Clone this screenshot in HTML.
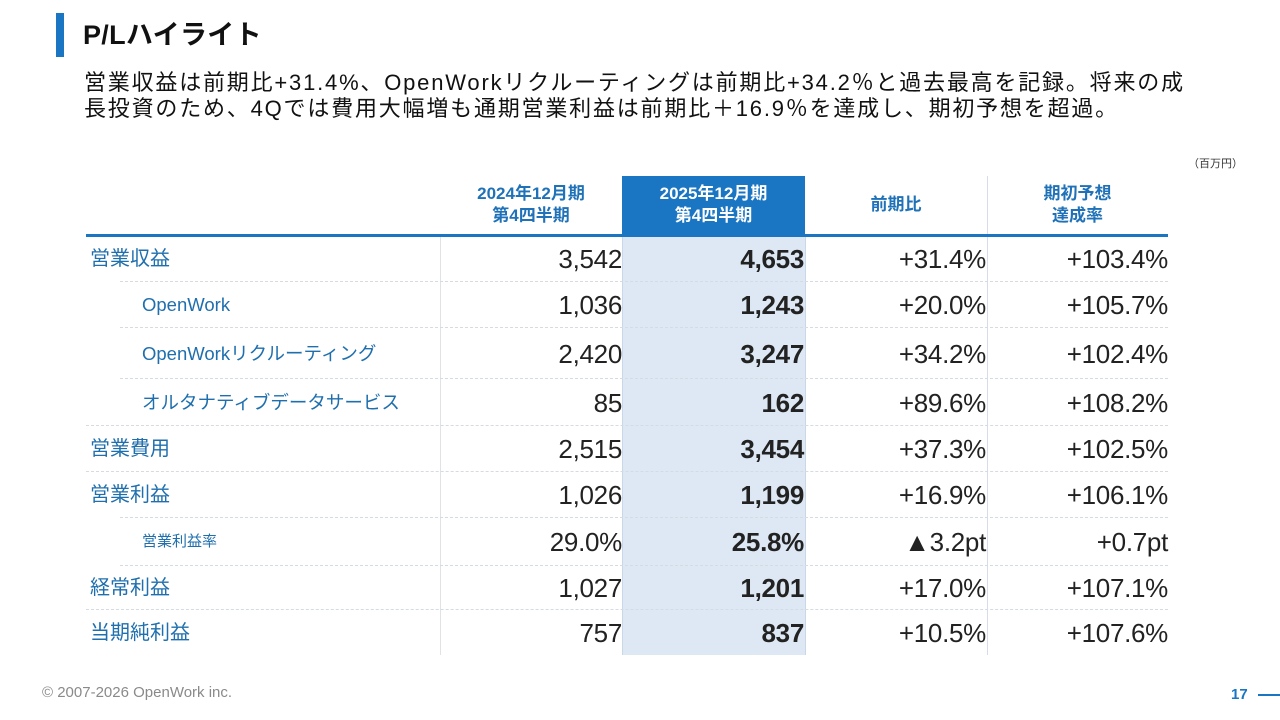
<!DOCTYPE html>
<html><head><meta charset="utf-8">
<style>
*{margin:0;padding:0;box-sizing:border-box}
body{width:1280px;height:720px;background:#fff;position:relative;overflow:hidden;font-family:"Liberation Sans","Noto Sans CJK JP",sans-serif;color:#222}
.abs{position:absolute}
.lbl{position:absolute;color:#1f6fae;font-size:19px;line-height:24px;white-space:nowrap}
.num{position:absolute;text-align:right;font-size:26px;line-height:30px;color:#222;white-space:nowrap;letter-spacing:-0.3px}
.b{font-weight:bold}
.hd{position:absolute;text-align:center;font-weight:bold;font-size:17px;line-height:22px;color:#1f72b8}
.sep{position:absolute;height:0;border-top:1px dashed #d4dbe3}
</style></head><body>
<div class="abs" style="left:56px;top:13px;width:8px;height:44px;background:#1a76c2"></div>
<div class="abs" style="left:83px;top:18px;font-size:27px;font-weight:bold;line-height:34px;color:#111;letter-spacing:0.3px">P/Lハイライト</div>
<div class="abs" style="left:84px;top:70px;font-size:22px;line-height:26px;color:#111;white-space:nowrap;letter-spacing:1.8px">営業収益は前期比+31.4%、OpenWorkリクルーティングは前期比+34.2％と過去最高を記録。将来の成<br>長投資のため、4Qでは費用大幅増も通期営業利益は前期比＋16.9％を達成し、期初予想を超過。</div>
<div class="abs" style="left:1188px;top:155px;font-size:11px;color:#333">（百万円）</div>

<div class="abs" style="left:622px;top:235px;width:183px;height:420px;background:#dde8f4"></div>
<div class="abs" style="left:622px;top:176px;width:183px;height:59px;background:#1a76c2"></div>
<div class="abs" style="left:440px;top:235px;width:1px;height:420px;background:#dfe3e8"></div>
<div class="abs" style="left:987px;top:176px;width:1px;height:479px;background:#d4dde8"></div>
<div class="abs" style="left:622px;top:235px;width:1px;height:420px;background:#c9d7e6"></div>
<div class="abs" style="left:805px;top:235px;width:1px;height:420px;background:#c9d7e6"></div>

<div class="hd" style="left:440px;top:183px;width:182px">2024年12月期<br>第4四半期</div>
<div class="hd" style="left:622px;top:183px;width:183px;color:#fff">2025年12月期<br>第4四半期</div>
<div class="hd" style="left:805px;top:194px;width:182px">前期比</div>
<div class="hd" style="left:987px;top:183px;width:181px">期初予想<br>達成率</div>
<div class="abs" style="left:86px;top:234px;width:1082px;height:3px;background:#1a76c2"></div>

<div id="rows"></div>

<div class="abs" style="left:42px;top:684px;font-size:15px;color:#8a8a8a">© 2007-2026 OpenWork inc.</div>
<div class="abs" style="left:1231px;top:686px;font-size:15px;font-weight:bold;color:#1a76c2">17</div>
<div class="abs" style="left:1258px;top:694px;width:22px;height:2px;background:#1a76c2"></div>

<script>
const labels=["営業収益","OpenWork","OpenWorkリクルーティング","オルタナティブデータサービス","営業費用","営業利益","営業利益率","経常利益","当期純利益"];
const indent=[0,1,1,1,0,0,2,0,0];
const prev=["3,542","1,036","2,420","85","2,515","1,026","29.0%","1,027","757"];
const curr=["4,653","1,243","3,247","162","3,454","1,199","25.8%","1,201","837"];
const yoy=["+31.4%","+20.0%","+34.2%","+89.6%","+37.3%","+16.9%","▲3.2pt","+17.0%","+10.5%"];
const fc=["+103.4%","+105.7%","+102.4%","+108.2%","+102.5%","+106.1%","+0.7pt","+107.1%","+107.6%"];
const bounds=[235,281,327,378,425,471,517,565,609,655];
const sepStart=[120,120,120,86,86,120,120,86];
const root=document.getElementById('rows');
function add(cls,txt,style){const d=document.createElement('div');d.className=cls;d.textContent=txt;d.style.cssText=style;root.appendChild(d);return d;}
labels.forEach((l,i)=>{
  const c=(bounds[i]+bounds[i+1])/2;
  const lx=indent[i]===0?90:142;
  const fs=indent[i]===2?15:(indent[i]===1?18.5:20);
  const e=add('lbl',l,`left:${lx}px;top:${c-11}px;font-size:${fs}px`);
  
  
  const cols=[[prev,440,622,''],[curr,622,804,' b'],[yoy,805,986,''],[fc,987,1168,'']];
  cols.forEach(([arr,x0,x1,b])=>{
    const n=add('num'+b,arr[i],`left:${x0}px;width:${x1-x0}px;top:${c-14}px`);
    
    
  });
  if(i<labels.length-1){
    const s=add('sep','',`left:${sepStart[i]}px;width:${1168-sepStart[i]}px;top:${bounds[i+1]}px`);
    
    
  }
});
</script>
</body></html>
